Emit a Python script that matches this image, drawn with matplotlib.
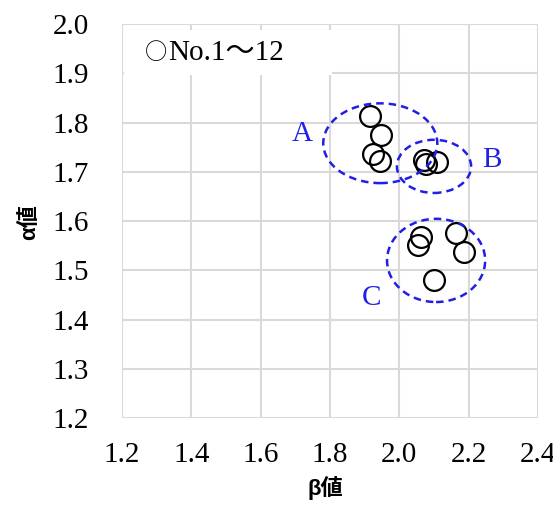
import matplotlib
matplotlib.use("Agg")
import matplotlib.pyplot as plt
from matplotlib.patches import Ellipse

beta = [1.916, 1.947, 1.924, 1.945, 2.072, 2.078, 2.110, 2.063, 2.054, 2.164, 2.187, 2.100]
alpha = [1.813, 1.775, 1.736, 1.722, 1.724, 1.716, 1.720, 1.567, 1.551, 1.576, 1.537, 1.480]

group_names = ["A", "B", "C"]
group_centers = [(1.945, 1.758), (2.100, 1.711), (2.106, 1.520)]
group_sizes = [(0.329, 0.162), (0.214, 0.108), (0.283, 0.169)]
label_pos = [(1.72, 1.776), (2.268, 1.724), (1.919, 1.444)]

xticks = [1.2, 1.4, 1.6, 1.8, 2.0, 2.2, 2.4]
yticks = [1.2, 1.3, 1.4, 1.5, 1.6, 1.7, 1.8, 1.9, 2.0]

serif = ["Liberation Serif", "Noto Sans CJK JP"]
blue = "#1f1fe6"
fs = 21

fig = plt.figure(figsize=(5.53, 5.12), dpi=100)
ax = fig.add_axes([0.2206, 0.1836, 0.7523, 0.7694])
ax.set_xlim(1.2, 2.4)
ax.set_ylim(1.2, 2.0)
ax.set_xticks(xticks)
ax.set_yticks(yticks)
ax.set_xticklabels([f"{v:.1f}" for v in xticks], family=serif, fontsize=fs)
ax.set_yticklabels([f"{v:.1f}" for v in yticks], family=serif, fontsize=fs)
ax.tick_params(axis="x", length=0, pad=17)
ax.tick_params(axis="y", length=0, pad=24)
ax.grid(True, color="#d9d9d9", linewidth=1.5)
ax.set_axisbelow(True)
for s in ax.spines.values():
    s.set_visible(False)

ax.plot(beta, alpha, linestyle="none", marker="o", markersize=15,
        markerfacecolor="none", markeredgecolor="black", markeredgewidth=1.6, zorder=3)

for name, c, sz, lp in zip(group_names, group_centers, group_sizes, label_pos):
    e = Ellipse(c, sz[0], sz[1], fill=False, edgecolor=blue, linewidth=1.8,
                linestyle=(0, (3, 2)), zorder=4)
    ax.add_patch(e)
    ax.text(lp[0], lp[1], name, color=blue, fontsize=fs, family=serif,
            ha="center", va="center")

# legend-like text box
ax.add_patch(plt.Rectangle((0.005, 0.87), 0.50, 0.115, transform=ax.transAxes,
                           facecolor="white", edgecolor="none", zorder=2))
ax.text(0.056, 0.927, "○", transform=ax.transAxes, family=["Noto Sans CJK JP"],
        fontsize=16, ha="left", va="center", zorder=5)
ax.text(0.110, 0.927, "No.1〜12", transform=ax.transAxes, family=serif, fontsize=fs,
        ha="left", va="center", zorder=5)

lab_family = ["Liberation Sans", "Noto Sans CJK JP"]
ax.set_xlabel("β値", family=lab_family, fontsize=16, fontweight="bold")
ax.set_ylabel("α値", family=lab_family, fontsize=16, fontweight="bold")
ax.xaxis.set_label_coords(0.49, -0.148)
ax.yaxis.set_label_coords(-0.197, 0.497)

fig.savefig("out.png", dpi=100)
